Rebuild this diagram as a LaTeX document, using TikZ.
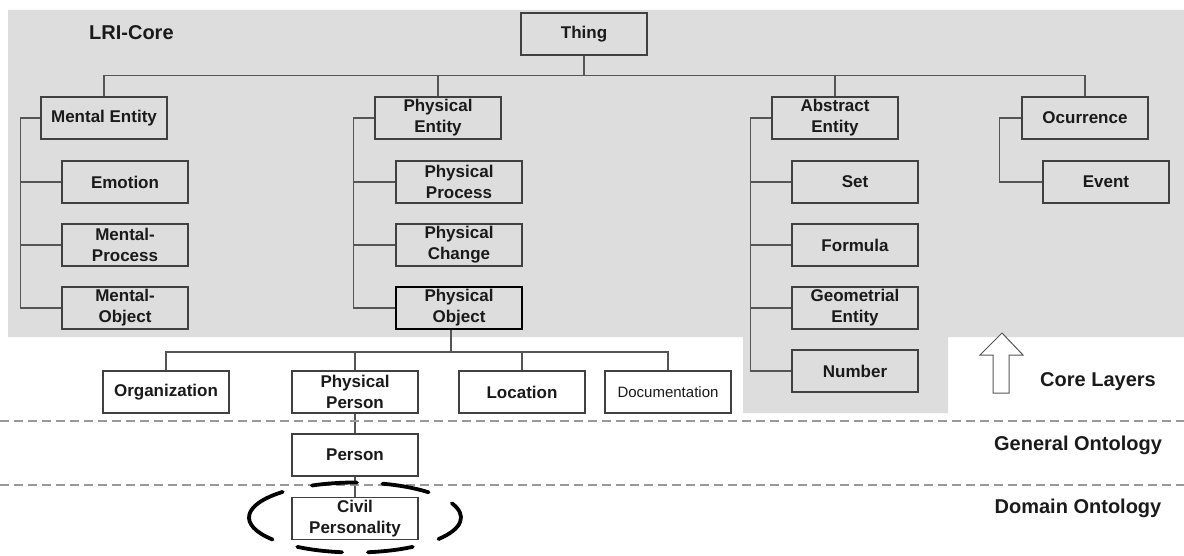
\documentclass[tikz,border=0pt]{standalone}
\usepackage{fontspec}
\setmainfont{Liberation Sans}
\usetikzlibrary{calc}
\definecolor{bggray}{HTML}{DDDDDD}
\definecolor{boxline}{HTML}{404040}
\definecolor{connc}{HTML}{555555}
\definecolor{dashgray}{HTML}{999999}
\definecolor{txt}{HTML}{1A1A1A}
\begin{document}
\begin{tikzpicture}[x=1pt,y=-1pt,
  box/.style={draw=boxline, line width=1.3pt, minimum width=126pt, minimum height=42pt,
    inner sep=0pt, align=center, font=\fontsize{17}{21}\selectfont\bfseries, text=txt},
  boldbox/.style={box, draw=black, line width=2pt},
  link/.style={draw=connc, line width=1.2pt},
  layer/.style={font=\fontsize{20}{24}\selectfont\bfseries, text=txt, inner sep=0pt},
  sepline/.style={draw=dashgray, line width=1.3pt, dash pattern=on 9pt off 5pt},
  ring/.style={draw=black, line width=3.8pt, line cap=round}]
\useasboundingbox (0,0) rectangle (1184,556);
\fill[white] (0,0) rectangle (1184,556);
% grey core region
\fill[bggray] (8,10) -- (1184,10) -- (1184,337) -- (948,337) -- (948,413) -- (743,413) -- (743,337) -- (8,337) -- cycle;

% nodes
\node[box] (thing) at (584,34) {Thing};
\node[box] (me) at (104,118) {Mental Entity};
\node[box] (emo) at (125,182) {Emotion};
\node[box] (mp) at (125,245) {Mental-\\Process};
\node[box] (mo) at (125,308) {Mental-\\Object};
\node[box] (pe) at (438,118) {Physical\\Entity};
\node[box] (pproc) at (459,182) {Physical\\Process};
\node[box] (pch) at (459,245) {Physical\\Change};
\node[boldbox] (po) at (459,308) {Physical\\Object};
\node[box] (ae) at (835,118) {Abstract\\Entity};
\node[box] (set) at (855,182) {Set};
\node[box] (form) at (855,245) {Formula};
\node[box] (geo) at (855,308) {Geometrial\\Entity};
\node[box] (num) at (855,371) {Number};
\node[box] (oc) at (1085,118) {Ocurrence};
\node[box] (ev) at (1106,182) {Event};
\node[box] (org) at (166,392) {Organization};
\node[box] (pp) at (355,392) {Physical\\Person};
\node[box] (loc) at (522,392) {Location};
\node[box, font=\fontsize{15}{18}\selectfont] (doc) at (668,392) {Documentation};
\node[box] (per) at (355,455) {Person};
\node[box] (cp) at (355,518.5) {Civil\\Personality};

% tree from Thing
\draw[link] (thing.south) -- ++(0,20) coordinate (tj);
\draw[link] (me.north) |- (tj) -| (oc.north);
\draw[link] (pe.north) -- (pe.north |- tj);
\draw[link] (ae.north) -- (ae.north |- tj);

% Mental Entity children
\draw[link] (me.west) -- ++(-20,0) coordinate (mj) |- (mo.west);
\draw[link] (mj |- emo.west) -- (emo.west);
\draw[link] (mj |- mp.west) -- (mp.west);

% Physical Entity children
\draw[link] (pe.west) -- ++(-21,0) coordinate (pj0) |- (po.west);
\draw[link] (pj0 |- pproc.west) -- (pproc.west);
\draw[link] (pj0 |- pch.west) -- (pch.west);

% Abstract Entity children
\draw[link] (ae.west) -- ++(-21,0) coordinate (aj) |- (num.west);
\draw[link] (aj |- set.west) -- (set.west);
\draw[link] (aj |- form.west) -- (form.west);
\draw[link] (aj |- geo.west) -- (geo.west);

% Ocurrence child
\draw[link] (oc.west) -- ++(-22,0) |- (ev.west);

% Physical Object children
\draw[link] ([xshift=-8pt]po.south) -- ++(0,22) coordinate (pj);
\draw[link] (org.north) |- (pj) -| (doc.north);
\draw[link] (pp.north) -- (pp.north |- pj);
\draw[link] (loc.north) -- (loc.north |- pj);

% lower chain
\draw[link] (pp.south) -- (per.north);
\draw[link] (per.south) -- (cp.north);

% layer separators
\draw[sepline] (0,421) -- (1184,421);
\draw[sepline] (0,485) -- (1184,485);

% labels
\node[layer, anchor=west] (lri) at (89,33) {LRI-Core};
\node[layer] (corel) at (1098,382) {Core Layers};
\node[layer] (gen) at (1078,445) {General Ontology};
\node[layer] (dom) at (1078,508) {Domain Ontology};

% hollow up arrow
\draw[fill=white, draw=connc, line width=1pt] (1002,333) -- (1023,355) -- (1009,355) -- (1009,393) -- (993,393) -- (993,355) -- (980,355) -- cycle;

% dashed ellipse around Civil Personality
\foreach \s/\e in {-89/-114, -46/-75, 38/-24, 83/57, 123/97, -133/-219}
  \draw[ring] ([yshift=1pt]cp.center) ++(\s:106 and 35) arc[start angle=\s, end angle=\e, x radius=106, y radius=35];
\end{tikzpicture}
\end{document}
